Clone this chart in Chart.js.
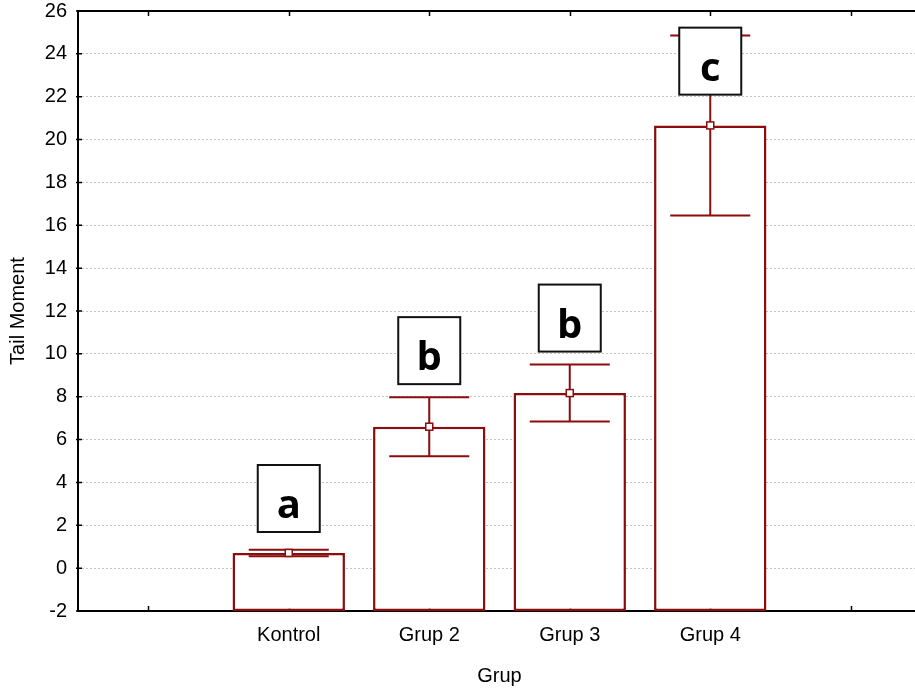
<!DOCTYPE html>
<html>
<head>
<meta charset="utf-8">
<script src="https://cdn.jsdelivr.net/npm/chart.js@4"></script>
<style>
  html, body { margin: 0; padding: 0; background: #fff; overflow: hidden; }
  #wrap { width: 925px; height: 691px; }
</style>
</head>
<body>
<div id="wrap"><canvas id="chart" width="925" height="691"></canvas></div>
<script>
// data
const groups = ['', 'Kontrol', 'Grup 2', 'Grup 3', 'Grup 4', ''];
const means = [null, 0.71, 6.6, 8.17, 20.66, null];
const errors = [null, 0.15, 1.38, 1.33, 4.2, null];
const letters = [null, 'a', 'b', 'b', 'c', null];
const letterAt = [null, 3.25, 10.15, 11.67, 23.66, null]; // box centre, in data units
const yMin = -2;
const yMax = 26;
const yStep = 2;

const RED = '#8b0d0d';
const FONT = '"Liberation Sans", Arial, sans-serif';

const extras = {
  id: 'extras',
  beforeDatasetsDraw(chart) {
    const { ctx, chartArea: a, scales: { x, y } } = chart;
    ctx.save();
    ctx.strokeStyle = '#000';
    ctx.lineWidth = 2;
    ctx.beginPath();
    ctx.moveTo(a.left, a.top); ctx.lineTo(a.right, a.top);
    ctx.moveTo(a.left, a.top - 1); ctx.lineTo(a.left, a.bottom + 1);
    ctx.moveTo(a.left, a.bottom); ctx.lineTo(a.right, a.bottom);
    ctx.stroke();
    // inward tick marks
    ctx.lineWidth = 1.5;
    ctx.beginPath();
    groups.forEach((g, i) => {
      const px = Math.round(x.getPixelForValue(i)) + 0.5;
      ctx.moveTo(px, a.top); ctx.lineTo(px, a.top + 5);
      ctx.moveTo(px, a.bottom); ctx.lineTo(px, a.bottom - 5);
    });
    for (let v = yMin; v <= yMax; v += yStep) {
      const py = y.getPixelForValue(v);
      ctx.moveTo(a.left - 2, py); ctx.lineTo(a.left + 4, py);
    }
    ctx.stroke();
    ctx.restore();
  },
  afterDatasetsDraw(chart) {
    const { ctx, scales: { y } } = chart;
    const bars = chart.getDatasetMeta(0).data;
    ctx.save();
    bars.forEach((bar, i) => {
      if (means[i] == null) return;
      const cx = bar.x;
      const half = bar.width * 0.356;
      const top = y.getPixelForValue(means[i] + errors[i]);
      const bot = y.getPixelForValue(means[i] - errors[i]);
      ctx.strokeStyle = RED;
      ctx.lineWidth = 2;
      ctx.beginPath();
      ctx.moveTo(cx, top); ctx.lineTo(cx, bot);
      ctx.moveTo(cx - half, top); ctx.lineTo(cx + half, top);
      ctx.moveTo(cx - half, bot); ctx.lineTo(cx + half, bot);
      ctx.stroke();
      const my = y.getPixelForValue(means[i]);
      ctx.fillStyle = '#fff';
      ctx.lineWidth = 1.5;
      ctx.fillRect(cx - 3.5, my - 3.5, 7, 7);
      ctx.strokeRect(cx - 3.5, my - 3.5, 7, 7);
    });
    // letter boxes
    bars.forEach((bar, i) => {
      if (!letters[i]) return;
      const cy = y.getPixelForValue(letterAt[i]);
      const w = 62, h = 67;
      ctx.fillStyle = '#fff';
      ctx.strokeStyle = '#111';
      ctx.lineWidth = 2;
      ctx.fillRect(bar.x - w / 2, cy - h / 2, w, h);
      ctx.strokeRect(bar.x - w / 2, cy - h / 2, w, h);
      ctx.fillStyle = '#000';
      ctx.font = 'bold 40px "Open Sans", sans-serif';
      ctx.textAlign = 'center';
      ctx.textBaseline = 'alphabetic';
      ctx.fillText(letters[i], bar.x, cy + h / 2 - 14);
    });
    ctx.restore();
  }
};

new Chart(document.getElementById('chart'), {
  type: 'bar',
  data: {
    labels: groups,
    datasets: [{
      data: means.map(m => (m == null ? null : [yMin, m])),
      backgroundColor: '#fff',
      borderColor: RED,
      borderWidth: 2.5,
      borderSkipped: false,
      barPercentage: 0.8,
      categoryPercentage: 1
    }]
  },
  options: {
    responsive: false,
    animation: false,
    devicePixelRatio: 1,
    layout: { padding: { top: 11, right: 4, left: 0, bottom: 0 } },
    plugins: { legend: { display: false }, tooltip: { enabled: false } },
    scales: {
      x: {
        offset: true,
        grid: { display: false, drawTicks: false },
        border: { display: false },
        ticks: { color: '#000', font: { family: FONT, size: 20 }, padding: 12, maxRotation: 0, autoSkip: false },
        title: { display: true, text: 'Grup', color: '#000', font: { family: FONT, size: 20 }, padding: { top: 3, bottom: 3 } },
        afterFit(s) { s.height = 80; s.paddingLeft = 0; s.paddingRight = 0; }
      },
      y: {
        min: yMin,
        max: yMax,
        ticks: { stepSize: yStep, color: '#000', font: { family: FONT, size: 20 }, padding: 11 },
        grid: {
          drawTicks: false,
          color: c => (c.tick.value === yMin || c.tick.value === yMax) ? 'rgba(0,0,0,0)' : '#c4c4c4',
          lineWidth: 1
        },
        border: { display: false, dash: [2, 2] },
        title: { display: true, text: 'Tail Moment', color: '#000', font: { family: FONT, size: 20 }, padding: { top: 6, bottom: 6 } },
        afterFit(s) { s.width = 78; s.paddingTop = 0; s.paddingBottom = 0; }
      }
    }
  },
  plugins: [extras]
});
</script>
</body>
</html>
